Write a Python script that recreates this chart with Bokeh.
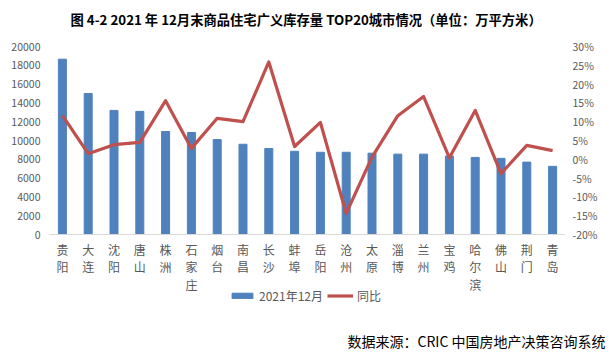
from bokeh.plotting import figure
from bokeh.models import (Range1d, LinearAxis, FixedTicker, PrintfTickFormatter,
                          Label, Legend, LegendItem, FactorRange, Span, Title, ColumnDataSource)
from bokeh.core.properties import value
from bokeh.embed import file_html
from bokeh.resources import INLINE

title_text = "图 4-2 2021 年 12月末商品住宅广义库存量 TOP20城市情况（单位：万平方米）"
source_text = "数据来源：CRIC 中国房地产决策咨询系统"
cities = ["贵阳", "大连", "沈阳", "唐山", "株洲", "石家庄", "烟台", "南昌", "长沙", "蚌埠",
          "岳阳", "沧州", "太原", "淄博", "兰州", "宝鸡", "哈尔滨", "佛山", "荆门", "青岛"]
stock = [18650, 15000, 13200, 13100, 10950, 10850, 10100, 9600, 9150, 8850,
         8750, 8750, 8650, 8550, 8550, 8350, 8200, 8100, 7700, 7250]
yoy = [11.7, 1.5, 3.9, 4.5, 15.6, 2.9, 10.9, 10.0, 25.9, 3.4,
       9.8, -14.4, 0.6, 11.6, 16.7, 0.4, 13.0, -3.8, 3.7, 2.3]
series_names = ["2021年12月", "同比"]
left_ticks = list(range(0, 20001, 2000))
right_ticks = list(range(-20, 31, 5))

FONT = "Noto Sans CJK SC"
GRAY = "#595959"

# frame geometry (pixels): frame spans y 0..FRAME_H of the figure
FIG_W = 610
FIG_H = 352
BOTTOM = 24
FRAME_H = FIG_H - BOTTOM
PX_PER_UNIT = 188 / 20000.0        # left axis: 20000 units over 188 px
ZERO_FROM_TOP = 234                # pixel row of value 0
left_lo = -(FRAME_H - ZERO_FROM_TOP) / PX_PER_UNIT
left_hi = ZERO_FROM_TOP / PX_PER_UNIT
PX_PER_PCT = 188 / 50.0
pct_zero_from_top = ZERO_FROM_TOP - 20 * PX_PER_PCT
pct_lo = -(FRAME_H - pct_zero_from_top) / PX_PER_PCT
pct_hi = pct_zero_from_top / PX_PER_PCT

p = figure(width=FIG_W, height=FIG_H, output_backend="svg", toolbar_location=None,
           x_range=FactorRange(*cities, range_padding=0), y_range=Range1d(left_lo, left_hi),
           x_axis_location=None,
           min_border_left=49, min_border_right=45, min_border_top=0, min_border_bottom=BOTTOM)
p.outline_line_color = None
p.xgrid.visible = False
p.ygrid.visible = False
p.background_fill_color = "white"
p.border_fill_color = "white"

p.extra_y_ranges = {"pct": Range1d(pct_lo, pct_hi)}

bars = p.vbar(x=cities, top=stock, width=0.31, color="#4F81BD")
line = p.line(x=cities, y=yoy, y_range_name="pct", line_color="#C0504D", line_width=3.2,
              line_join="round")

# category axis line and labels (stacked vertical characters)
p.add_layout(Span(location=0, dimension="width", line_color="#D9D9D9", line_width=1))
label_src = ColumnDataSource(dict(x=cities, text=["\n".join(c) for c in cities]))
p.text(x="x", y=-6 / PX_PER_UNIT, text="text", source=label_src,
       text_font=value(FONT), text_font_size="12px", text_color=GRAY,
       text_align="center", text_baseline="top", text_line_height=1.05)

# left axis
ya = p.yaxis[0]
ya.ticker = FixedTicker(ticks=left_ticks)
ya.axis_line_color = None
ya.major_tick_line_color = None
ya.minor_tick_line_color = None
ya.major_tick_out = 0
ya.major_tick_in = 0
ya.major_label_text_font = FONT
ya.major_label_text_font_size = "10.5px"
ya.major_label_text_color = GRAY
ya.major_label_standoff = 9

ra = LinearAxis(y_range_name="pct", ticker=FixedTicker(ticks=right_ticks),
                formatter=PrintfTickFormatter(format="%d%%"))
ra.axis_line_color = None
ra.major_tick_line_color = None
ra.minor_tick_line_color = None
ra.major_tick_out = 0
ra.major_tick_in = 0
ra.major_label_text_font = FONT
ra.major_label_text_font_size = "10.5px"
ra.major_label_text_color = GRAY
ra.major_label_standoff = 7
p.add_layout(ra, "right")

legend = Legend(items=[LegendItem(label=series_names[0], renderers=[bars]),
                       LegendItem(label=series_names[1], renderers=[line])],
                location=(180, FRAME_H - 298 - 6), orientation="horizontal",
                border_line_color=None, background_fill_alpha=0,
                padding=0, margin=0, spacing=4, label_standoff=4,
                glyph_width=26, glyph_height=7, label_height=12,
                label_text_font=FONT, label_text_font_size="12px",
                label_text_color=GRAY)
p.add_layout(legend, "center")

p.add_layout(Label(x=21, y=FRAME_H - 19, x_units="screen", y_units="screen",
                   text=title_text,
                   text_font=FONT, text_font_size="13.3px", text_font_style="bold",
                   text_color="#000000", text_baseline="middle"))

src_title = Title(text=source_text, align="right", offset=-40, standoff=0,
                  vertical_align="bottom",
                  text_font=FONT, text_font_size="14px", text_font_style="normal",
                  text_color="#000000")
p.add_layout(src_title, "below")

open("out.html", "w").write(file_html(p, INLINE))
